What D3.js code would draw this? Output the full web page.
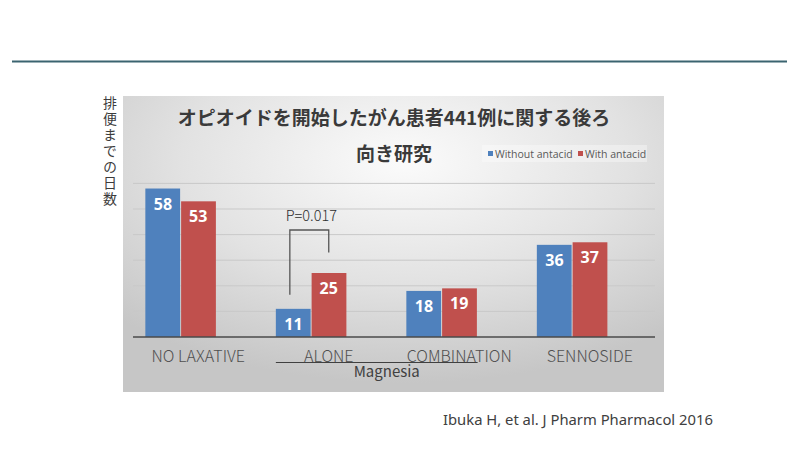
<!DOCTYPE html>
<html>

<head>
    <meta charset="utf-8">
    <title>Magnesia and antacid - days to bowel movement</title>
    <script type="text/javascript" src="https://d3js.org/d3.v7.min.js"></script>
    <style>
        body { margin: 0; background: #fff; }
        text { font-family: "Noto Sans CJK JP", "Noto Sans", sans-serif; }
    </style>
</head>

<body>
    <script type="text/javascript">
        //Chart data
        var categories = ["NO LAXATIVE", "ALONE", "COMBINATION", "SENNOSIDE"];
        var seriesNames = ["Without antacid", "With antacid"];
        var withoutAntacid = [58, 11, 18, 36];
        var withAntacid = [53, 25, 19, 37];
        var yTicks = [10, 20, 30, 40, 50, 60];
        var titleLines = ["オピオイドを開始したがん患者441例に関する後ろ", "向き研究"];
        var yLabel = "排便までの日数";
        var pValue = "P=0.017";
        var citation = "Ibuka H, et al. J Pharm Pharmacol 2016";

        var w = 800;
        var h = 450;
        var colors = ["#4f81bd", "#c0504d"];

        var svg = d3.select("body")
            .append("svg")
            .attr("width", w)
            .attr("height", h);

        //Panel background gradient
        var defs = svg.append("defs");
        var grad = defs.append("radialGradient")
            .attr("id", "bg")
            .attr("cx", "52%").attr("cy", "22%")
            .attr("r", "75%");
        grad.append("stop").attr("offset", "0%").attr("stop-color", "#fbfbfb");
        grad.append("stop").attr("offset", "55%").attr("stop-color", "#e2e2e2");
        grad.append("stop").attr("offset", "100%").attr("stop-color", "#c6c6c6");

        //Top rule
        svg.append("line")
            .attr("x1", 12).attr("x2", 787)
            .attr("y1", 61.5).attr("y2", 61.5)
            .attr("stroke", "#3b6470")
            .attr("stroke-width", 2);

        svg.append("rect")
            .attr("x", 123).attr("y", 96)
            .attr("width", 541).attr("height", 296)
            .attr("fill", "url(#bg)");

        //Scales
        var x = d3.scaleBand()
            .domain(categories)
            .range([133, 655]);

        //third, empty slot keeps the bars left-shifted as in the source chart
        var x1 = d3.scaleBand()
            .domain(seriesNames.concat([""]))
            .range([0, x.bandwidth()])
            .paddingOuter(0.35);

        var y = d3.scaleLinear()
            .domain([0, 60])
            .range([337, 183.4]);

        //Gridlines
        svg.append("g")
            .selectAll("line")
            .data(yTicks)
            .enter()
            .append("line")
            .attr("x1", 133).attr("x2", 655)
            .attr("y1", d => y(d)).attr("y2", d => y(d))
            .attr("stroke", "#c9c9c9")
            .attr("stroke-width", 1);

        //Bars
        var rows = categories.map(function(c, i) {
            return { cat: c, vals: [withoutAntacid[i], withAntacid[i]] };
        });

        var groups = svg.append("g")
            .selectAll("g")
            .data(rows)
            .enter()
            .append("g")
            .attr("transform", d => "translate(" + x(d.cat) + ",0)");

        groups.selectAll("rect")
            .data(d => d.vals.map((v, j) => ({ s: seriesNames[j], v: v, j: j })))
            .enter()
            .append("rect")
            .attr("x", d => x1(d.s) + (d.j == 1 ? 0.5 : 0))
            .attr("width", x1.bandwidth() - 0.5)
            .attr("y", d => y(d.v))
            .attr("height", d => y(0) - y(d.v))
            .attr("fill", d => colors[d.j]);

        groups.selectAll("text")
            .data(d => d.vals.map((v, j) => ({ s: seriesNames[j], v: v })))
            .enter()
            .append("text")
            .attr("x", d => x1(d.s) + x1.bandwidth() / 2)
            .attr("y", d => y(d.v) + 21)
            .attr("text-anchor", "middle")
            .attr("fill", "#fff")
            .style("font-family", "'Open Sans', sans-serif")
            .style("font-weight", "bold")
            .style("font-size", "16px")
            .text(d => d.v);

        //Category axis
        svg.append("line")
            .attr("x1", 133).attr("x2", 655)
            .attr("y1", y(0)).attr("y2", y(0))
            .attr("stroke", "#4a4a4a")
            .attr("stroke-width", 1.5);

        svg.append("g")
            .selectAll("text")
            .data(categories)
            .enter()
            .append("text")
            .attr("x", d => x(d) + x.bandwidth() / 2)
            .attr("y", 361.5)
            .attr("text-anchor", "middle")
            .attr("fill", "#4f4f4f")
            .style("font-weight", "300")
            .style("font-size", "16px")
            .text(d => d);

        //Magnesia bracket under ALONE and COMBINATION
        var mgLeft = x("ALONE") + x1(seriesNames[0]);
        var mgRight = x("COMBINATION") + x1(seriesNames[1]) + 36;
        svg.append("line")
            .attr("x1", mgLeft).attr("x2", mgRight)
            .attr("y1", 362.5).attr("y2", 362.5)
            .attr("stroke", "#404040")
            .attr("stroke-width", 1);
        svg.append("text")
            .attr("x", (mgLeft + mgRight) / 2 + 10)
            .attr("y", 376.5)
            .attr("text-anchor", "middle")
            .attr("fill", "#404040")
            .style("font-size", "15px")
            .text("Magnesia");

        //Significance bracket
        var bx1 = x("ALONE") + x1(seriesNames[0]) + 14;
        var bx2 = x("ALONE") + x1(seriesNames[1]) + x1.bandwidth() / 2;
        svg.append("path")
            .attr("d", "M" + bx1 + "," + y(16.5) + "V" + y(41.8) + "H" + bx2 + "V" + y(33))
            .attr("fill", "none")
            .attr("stroke", "#555")
            .attr("stroke-width", 1.3);
        svg.append("text")
            .attr("x", (bx1 + bx2) / 2 + 2)
            .attr("y", 221)
            .attr("text-anchor", "middle")
            .attr("fill", "#2e2e2e")
            .style("font-weight", "300")
            .style("font-size", "14.5px")
            .text(pValue);

        //Title
        svg.append("g")
            .selectAll("text")
            .data(titleLines)
            .enter()
            .append("text")
            .attr("x", 394)
            .attr("y", (d, i) => 125 + i * 36)
            .attr("text-anchor", "middle")
            .attr("fill", "#3a3a3a")
            .style("font-weight", "bold")
            .style("font-size", "19px")
            .text(d => d);

        //Legend
        svg.append("rect")
            .attr("x", 482).attr("y", 145)
            .attr("width", 165).attr("height", 17)
            .attr("fill", "#ffffff")
            .attr("fill-opacity", 0.35);

        var legendX = [488, 578];
        var legend = svg.append("g")
            .selectAll("g")
            .data(seriesNames)
            .enter()
            .append("g")
            .attr("transform", (d, i) => "translate(" + legendX[i] + ",153.5)");
        legend.append("rect")
            .attr("x", 0).attr("y", -2.5)
            .attr("width", 5).attr("height", 5)
            .attr("fill", (d, i) => colors[i]);
        legend.append("text")
            .attr("x", 7).attr("y", 4)
            .attr("fill", "#595959")
            .style("font-family", "'Open Sans', sans-serif")
            .style("font-size", "10.5px")
            .text(d => d);

        //Vertical y label, one text set top to bottom
        svg.append("text")
            .attr("x", 110)
            .attr("y", 96)
            .style("writing-mode", "vertical-rl")
            .style("text-orientation", "upright")
            .style("letter-spacing", "2px")
            .attr("fill", "#3c3c3c")
            .style("font-size", "14px")
            .text(yLabel);

        //Source
        svg.append("text")
            .attr("x", 443)
            .attr("y", 425)
            .attr("fill", "#404040")
            .style("font-family", "'Noto Sans', sans-serif")
            .style("font-size", "14.8px")
            .text(citation);
    </script>
</body>

</html>
